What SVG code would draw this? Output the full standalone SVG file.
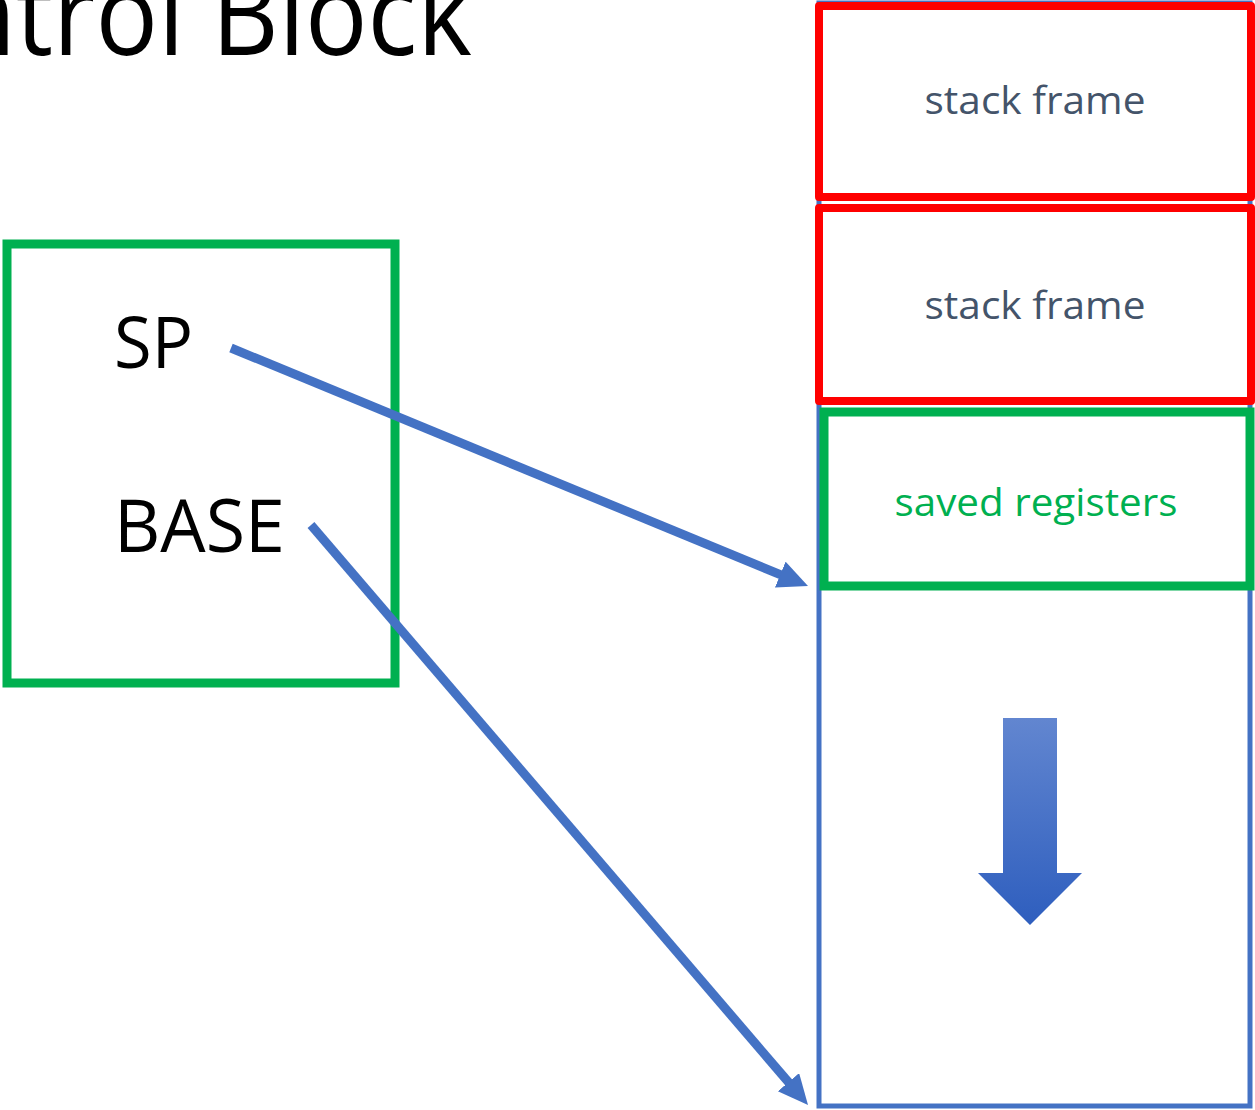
<svg xmlns="http://www.w3.org/2000/svg" width="1255" height="1110" viewBox="0 0 1255 1110">
  <style>
    .txt { font-family: "Open Sans", "Liberation Sans", sans-serif; }
    .frame { fill: none; stroke: #FF0000; stroke-width: 8; stroke-linejoin: round; }
    .green { fill: none; stroke: #00B050; stroke-width: 9; }
    .stack { fill: none; stroke: #4472C4; stroke-width: 5; }
    .conn { fill: none; stroke: #4472C4; stroke-width: 9; }
    .label { font-size: 39px; fill: #44546A; text-anchor: middle; }
  </style>
  <defs>
    <marker id="head" markerUnits="userSpaceOnUse" markerWidth="32" markerHeight="30" refX="10" refY="14" orient="auto">
      <path d="M0,0 L30,14 L0,28 Z" fill="#4472C4"/>
    </marker>
    <linearGradient id="downFill" x1="0" y1="0" x2="0" y2="1">
      <stop offset="0" stop-color="#6286D0"/>
      <stop offset="1" stop-color="#2E5EBE"/>
    </linearGradient>
  </defs>

  <!-- slide title, partly off the left and top edge -->
  <text class="txt" x="-176" y="55" font-size="116" textLength="648" lengthAdjust="spacingAndGlyphs" fill="#000">Control Block</text>

  <!-- stack memory region -->
  <g id="stack">
    <rect class="stack" x="819" y="3" width="431" height="1103"/>
  </g>

  <g id="frame1">
    <rect class="frame" x="819" y="6" width="432" height="191"/>
    <text class="txt label" x="1035" y="114" textLength="221" lengthAdjust="spacingAndGlyphs">stack frame</text>
  </g>

  <g id="frame2">
    <rect class="frame" x="819" y="208" width="432" height="193"/>
    <text class="txt label" x="1035" y="319" textLength="221" lengthAdjust="spacingAndGlyphs">stack frame</text>
  </g>

  <g id="saved">
    <rect class="green" x="824" y="412" width="426" height="174"/>
    <text class="txt" x="1036" y="516" font-size="39" fill="#00B050" text-anchor="middle" textLength="283" lengthAdjust="spacingAndGlyphs">saved registers</text>
  </g>

  <!-- growth direction -->
  <g id="grow">
    <path d="M1003,718 H1057 V873 H1082 L1030,925 L978,873 H1003 Z" fill="url(#downFill)"/>
  </g>

  <!-- control block with its two pointers -->
  <g id="tcb">
    <rect class="green" x="7" y="244" width="388" height="439" stroke-width="8"/>
    <text class="txt" x="114" y="368" font-size="72" fill="#000" textLength="79" lengthAdjust="spacingAndGlyphs">SP</text>
    <text class="txt" x="114" y="552" font-size="74" fill="#000" textLength="171" lengthAdjust="spacingAndGlyphs">BASE</text>
  </g>

  <g id="connectors">
    <line class="conn" x1="231" y1="348" x2="789.5" y2="578.4" marker-end="url(#head)"/>
    <line class="conn" x1="311" y1="525" x2="795" y2="1089.8" marker-end="url(#head)"/>
  </g>
</svg>
